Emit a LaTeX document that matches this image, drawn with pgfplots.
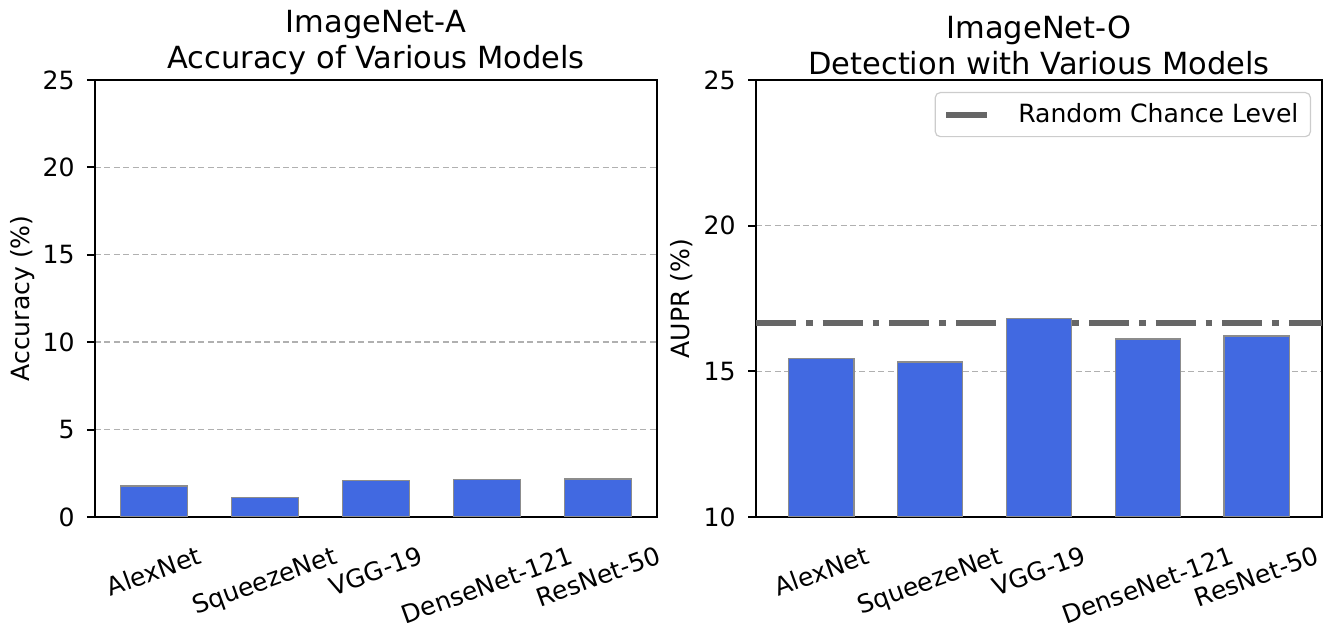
\documentclass[border=0pt]{standalone}
\usepackage{fontspec}
\setmainfont{DejaVu Sans}
\usepackage{graphicx}
\usepackage{pgfplots}
\pgfplotsset{compat=1.18}
\definecolor{barblue}{HTML}{4169E1}
\definecolor{chance}{HTML}{666666}
\definecolor{gridgray}{HTML}{B0B0B0}
\definecolor{edgegray}{HTML}{8C8C8C}
\newcommand{\rl}[1]{\rotatebox{20}{#1}}
\pgfplotsset{
  panel/.style={
    scale only axis, height=218.5bp,
    axis line style={line width=1bp},
    tick align=outside, major tick length=4bp,
    every tick/.style={line width=1bp, black},
    xtick pos=bottom, ytick pos=left,
    xtick={0,1,2,3,4},
    xticklabels={\rl{AlexNet},\rl{SqueezeNet},\rl{VGG-19},\rl{DenseNet-121},\rl{ResNet-50}},
    major x tick style={draw=none},
    xticklabel style={anchor=north, inner sep=0pt, yshift=-10bp},
    yticklabel style={anchor=east, inner sep=0pt, xshift=-6bp},
    tick label style={font=\fontsize{12.6}{14.5}\selectfont},
    /pgf/number format/assume math mode=true,
    ymajorgrids,
    major grid style={gridgray, line width=0.7bp, dash pattern=on 3bp off 1.7bp},
    title style={align=center, font=\fontsize{15.3}{18}\selectfont, anchor=south, at={(0.5,1)}, yshift=-3.6bp, inner sep=0pt},
    label style={font=\fontsize{12.6}{14.5}\selectfont},
  },
  bars/.style={ybar, bar width=0.6, fill=barblue, draw=edgegray, line width=0.6bp},
}
\begin{document}
\begin{tikzpicture}
\useasboundingbox (0,0) rectangle (664bp,311.5bp);
\begin{axis}[panel, at={(47.5bp,53bp)}, anchor=south west, width=281bp,
  xmin=-0.53, xmax=4.53, ymin=0, ymax=25, ytick={0,5,10,15,20,25},
  title={ImageNet-A\\Accuracy of Various Models},
  ylabel={Accuracy (\%)},
  ylabel style={at={(axis description cs:-0.129,0.5)}, anchor=center}]
\addplot[bars] coordinates {(0,1.77) (1,1.12) (2,2.09) (3,2.16) (4,2.17)};
\end{axis}
\begin{axis}[panel, at={(378bp,53bp)}, anchor=south west, width=283bp,
  xmin=-0.6, xmax=4.6, ymin=10, ymax=25, ytick={10,15,20,25},
  title={ImageNet-O\\Detection with Various Models},
  ylabel={AUPR (\%)},
  ylabel style={at={(axis description cs:-0.131,0.5)}, anchor=center},
  legend style={at={(1,1)}, anchor=north east, xshift=-5.5bp, yshift=-6bp,
    draw=black!20, line width=0.6bp, rounded corners=2.5bp,
    font=\fontsize{12.6}{14.5}\selectfont, inner xsep=4bp, inner ysep=3.5bp,
    column sep=12bp},
  legend cell align=left,
  legend image code/.code={\draw[solid, line width=3bp, chance] (0bp,0bp) -- (20.5bp,0bp);}]
\addplot[chance, line width=3bp, dash pattern=on 20bp off 5bp on 3.3bp off 5bp] coordinates {(-0.6,16.67) (4.6,16.67)};
\addlegendentry{Random Chance Level}
\addplot[bars, forget plot] coordinates {(0,15.44) (1,15.32) (2,16.81) (3,16.11) (4,16.21)};
\end{axis}
\end{tikzpicture}
\end{document}
